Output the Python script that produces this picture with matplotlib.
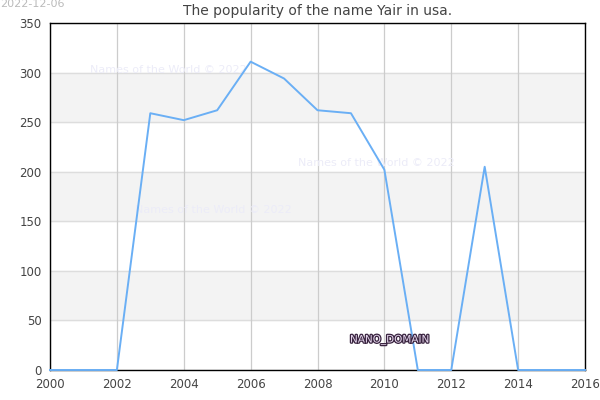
import matplotlib.pyplot as plt
import matplotlib.patheffects as pe

years = list(range(2000, 2017))
counts = [0, 0, 0, 259, 252, 262, 311, 294, 262, 259, 202, 0, 0, 205, 0, 0, 0]
xticks = list(range(2000, 2017, 2))
yticks = list(range(0, 351, 50))

fig = plt.figure(figsize=(6, 4), dpi=100)
ax = fig.add_axes([50 / 600, 30 / 400, 535 / 600, 347 / 400])

# alternating horizontal bands
for lo in (50, 150, 250):
    ax.axhspan(lo, lo + 50, color='#f3f3f3', zorder=0)
for y in yticks:
    ax.axhline(y, color='#dddddd', lw=1, zorder=1)
for x in xticks:
    ax.axvline(x, color='#cccccc', lw=0.9, zorder=1)

ax.plot(years, counts, color='#6aaff5', lw=1.4, zorder=4, clip_on=False)

ax.set_xlim(2000, 2016)
ax.set_ylim(0, 350)
ax.set_xticks(xticks)
ax.set_yticks(yticks)
ax.tick_params(length=0, labelsize=8.5, colors='#444444', pad=6)
for s in ax.spines.values():
    s.set_color('black')
    s.set_linewidth(1)

ax.set_title('The popularity of the name Yair in usa.', fontsize=10, color='#444444', pad=6)

wm = dict(fontsize=8, color='#ececf8', zorder=2)
ax.text(90 / 600, 1 - 70 / 400, 'Names of the World © 2022', transform=fig.transFigure, va='center', **wm)
ax.text(298 / 600, 1 - 163 / 400, 'Names of the World © 2022', transform=fig.transFigure, va='center', **wm)
ax.text(135 / 600, 1 - 210 / 400, 'Names of the World © 2022', transform=fig.transFigure, va='center', **wm)

fig.text(350 / 600, 1 - 340 / 400, 'NANO_DOMAIN', fontsize=7.5, color='#e6d7ee', va='center',
         path_effects=[pe.withStroke(linewidth=1.8, foreground='#3a2540')])

fig.text(0, 1 - 4 / 400, '2022-12-06', fontsize=8, color='#bbbbbb', va='center')

fig.savefig('out.png', dpi=100)
